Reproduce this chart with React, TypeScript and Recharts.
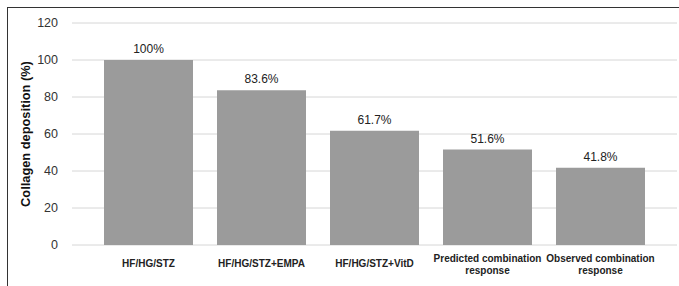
import { BarChart, Bar, XAxis, YAxis, CartesianGrid, LabelList } from 'recharts'

const groups = [
  'HF/HG/STZ',
  'HF/HG/STZ+EMPA',
  'HF/HG/STZ+VitD',
  'Predicted combination\nresponse',
  'Observed combination\nresponse',
]
const collagen = [100, 83.6, 61.7, 51.6, 41.8]
const yTicks = [0, 20, 40, 60, 80, 100, 120]
const yTitle = 'Collagen deposition (%)'

const font = '"Liberation Sans", Arial, sans-serif'

const data = groups.map((g, i) => ({ group: g, value: collagen[i] }))

// eslint-disable-next-line @typescript-eslint/no-explicit-any
function GroupTick({ x, y, payload }: any) {
  const lines = String(payload.value).split('\n')
  const lh = 12
  const first = (lines.length > 1 ? 19.5 : 18) - ((lines.length - 1) * lh) / 2
  return (
    <text x={x} y={y} textAnchor="middle" fontSize={10} fontWeight="bold" fill="#222" fontFamily={font}>
      {lines.map((l, i) => (
        <tspan key={i} x={x} y={y + first + i * lh} dy="0.355em">
          {l}
        </tspan>
      ))}
    </text>
  )
}

export default function App() {
  return (
    <div style={{ position: 'absolute', left: 0, top: 0, width: 679, height: 286, background: '#fff' }}>
      <div
        style={{
          position: 'absolute',
          left: 7,
          top: 7,
          right: 0,
          bottom: 0,
          borderLeft: '1px solid #333',
          borderTop: '1px solid #333',
        }}
      />
      <BarChart
        width={679}
        height={286}
        data={data}
        margin={{ top: 23, right: 2, bottom: 0, left: 0 }}
        style={{ position: 'absolute', left: 0, top: 0, fontFamily: font }}
      >
        <CartesianGrid vertical={false} stroke="#d6d6d6" strokeWidth={1} />
        <XAxis
          dataKey="group"
          height={41}
          axisLine={false}
          tickLine={false}
          tickSize={0}
          tickMargin={0}
          padding={{ left: 20, right: 20 }}
          interval={0}
          tick={<GroupTick />}
        />
        <YAxis
          width={72}
          domain={[0, 120]}
          ticks={yTicks}
          axisLine={false}
          tickLine={false}
          tickSize={0}
          tickMargin={14}
          tick={{ fontSize: 12.5, fill: '#333', fontFamily: font }}
          label={{
            value: yTitle,
            angle: -90,
            position: 'insideLeft',
            offset: 25,
            style: { textAnchor: 'middle', fontSize: 12.8, fontWeight: 'bold', fill: '#111', fontFamily: font },
          }}
        />
        <Bar dataKey="value" fill="#9b9b9b" barSize={89} isAnimationActive={false}>
          <LabelList
            dataKey="value"
            position="top"
            offset={7}
            formatter={(v: number) => `${v}%`}
            style={{ fontSize: 12, fill: '#222', fontFamily: font }}
          />
        </Bar>
      </BarChart>
    </div>
  )
}
